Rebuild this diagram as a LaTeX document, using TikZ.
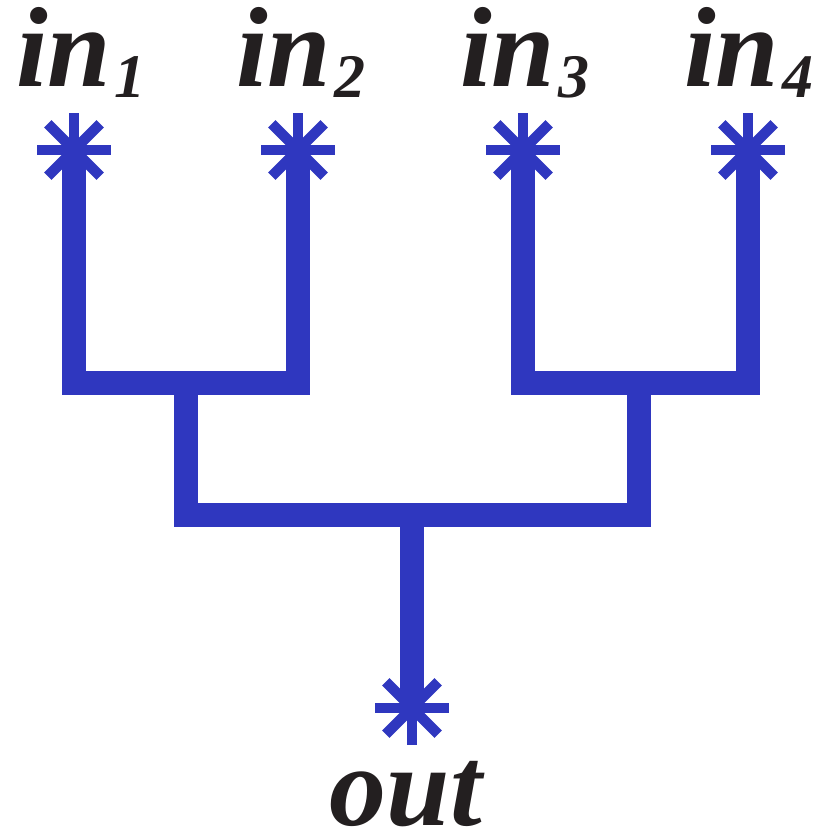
\documentclass[tikz,border=0pt]{standalone}
\usepackage{fontspec}
\setmainfont{Liberation Serif}
\usetikzlibrary{calc}
\definecolor{treeBlue}{HTML}{2F37BF}
\definecolor{labelInk}{HTML}{231F20}
\newcommand{\inlabel}[1]{in\kern3pt\raisebox{-11pt}{\fontsize{62}{62}\selectfont #1}}

\begin{document}
\begin{tikzpicture}[x=1pt, y=1pt,
    port/.style={circle, minimum size=74pt, inner sep=0pt},
    arm/.style={treeBlue, line width=10.5pt, line cap=butt},
    wire/.style={treeBlue, line width=24pt, line join=miter, line cap=butt},
    lbl/.style={font=\fontsize{114}{114}\selectfont\bfseries\itshape,
                text=labelInk, inner sep=0pt},
  ]
    \useasboundingbox (0,0) rectangle (818,832);

    % ports
    \node[port] (i1) at (74,682) {};
    \node[port] (i2) at (298,682) {};
    \node[port] (i3) at (523,682) {};
    \node[port] (i4) at (748,682) {};
    \node[port] (o)  at (412,124) {};

    % junctions
    \coordinate (j1) at (186,449);
    \coordinate (j2) at (639,449);
    \coordinate (k)  at (412,317);

    % tree
    \draw[wire] ([yshift=-12pt]i1.center) -- (i1 |- j1) -- (i2 |- j1) -- ([yshift=-12pt]i2.center);
    \draw[wire] ([yshift=-12pt]i3.center) -- (i3 |- j2) -- (i4 |- j2) -- ([yshift=-12pt]i4.center);
    \draw[wire] (j1) -- (j1 |- k) -- (j2 |- k) -- (j2);
    \draw[wire] (k) -- ([yshift=12pt]o.center);

    % stars
    \foreach \p in {i1,i2,i3,i4,o}
      \foreach \a in {0,45,...,315}
        \draw[arm] (\p.center) -- ++(\a:37);

    % labels
    \node[lbl, anchor=base west] (l1) at (16,745) {\inlabel{1}};
    \node[lbl, anchor=base west] (l2) at (236,745) {\inlabel{2}};
    \node[lbl, anchor=base west] (l3) at (460,745) {\inlabel{3}};
    \node[lbl, anchor=base west] (l4) at (684,745) {\inlabel{4}};
    \node[lbl, anchor=base] (lo) at (406,6) {out};
  \end{tikzpicture}
\end{document}
